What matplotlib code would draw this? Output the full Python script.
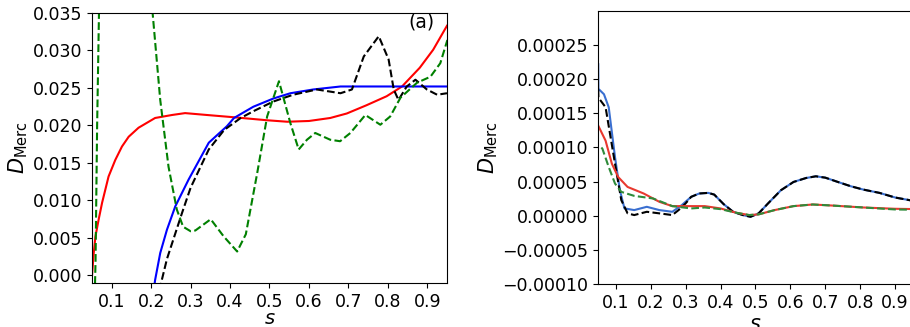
import numpy as np
import matplotlib
matplotlib.use('Agg')
import matplotlib.pyplot as plt

# ---- panel (a) data ----
red_a_s = [0.05, 0.0544, 0.0587, 0.067, 0.0756, 0.092, 0.109, 0.126, 0.143, 0.168, 0.21, 0.253, 0.286,
           0.341, 0.409, 0.493, 0.545, 0.60, 0.654, 0.696, 0.746, 0.797, 0.836, 0.881, 0.915, 0.95]
red_a_d = [0.0, 0.003, 0.0052, 0.0075, 0.0097, 0.0132, 0.0154, 0.0172, 0.0185, 0.0197, 0.021, 0.0214,
           0.02165, 0.0214, 0.0211, 0.0207, 0.0205, 0.0206, 0.021, 0.0216, 0.0227, 0.0239, 0.0252,
           0.0277, 0.0301, 0.0333]

blue_a_s = [0.205, 0.21, 0.223, 0.24, 0.261, 0.295, 0.346, 0.392, 0.41, 0.459, 0.51, 0.553, 0.611,
            0.68, 0.746, 0.831, 0.95]
blue_a_d = [-0.0025, -0.0006, 0.003, 0.0061, 0.0092, 0.0128, 0.0177, 0.0199, 0.021, 0.0225, 0.0236,
            0.0243, 0.0248, 0.0252, 0.0252, 0.0252, 0.0252]

black_a_s = [0.222, 0.227, 0.24, 0.278, 0.30, 0.346, 0.385, 0.427, 0.459, 0.51, 0.56, 0.62, 0.68,
             0.709, 0.739, 0.777, 0.802, 0.815, 0.827, 0.848, 0.87, 0.899, 0.925, 0.95]
black_a_d = [-0.002, -0.0006, 0.0022, 0.0083, 0.0117, 0.0168, 0.0194, 0.021, 0.0219, 0.0232, 0.0241,
             0.0248, 0.0243, 0.0248, 0.0292, 0.0319, 0.0288, 0.0248, 0.0234, 0.0252, 0.0261, 0.0248,
             0.0241, 0.0243]

green_a_s = [0.05, 0.056, 0.059, 0.063, 0.068, 0.075, 0.1, 0.14, 0.18, 0.202, 0.223, 0.244, 0.265,
             0.281, 0.30, 0.312, 0.351, 0.384, 0.418, 0.44, 0.469, 0.494, 0.524, 0.553, 0.574,
             0.595, 0.616, 0.654, 0.679, 0.705, 0.743, 0.781, 0.806, 0.832, 0.874, 0.908, 0.933, 0.951]
green_a_d = [-0.03, -0.005, 0.002, 0.02, 0.036, 0.06, 0.09, 0.09, 0.055, 0.036, 0.0234, 0.0145,
             0.0088, 0.0065, 0.0059, 0.006, 0.0075, 0.0052, 0.0032, 0.0055, 0.0137, 0.0212, 0.0259,
             0.0203, 0.0168, 0.0181, 0.019, 0.0181, 0.0179, 0.019, 0.0214, 0.0201, 0.0212, 0.0237,
             0.0257, 0.0265, 0.0283, 0.0314]

# ---- right panel data ----
blue_b_s = [0.05, 0.0505, 0.0664, 0.08, 0.098, 0.112, 0.125, 0.153, 0.189, 0.225, 0.262, 0.289, 0.316,
            0.339, 0.365, 0.382, 0.409, 0.436, 0.464, 0.486, 0.509, 0.536, 0.573, 0.609, 0.645,
            0.673, 0.70, 0.736, 0.773, 0.809, 0.855, 0.90, 0.95]
blue_b_d = [0.000222, 0.000186, 0.000178, 0.000159, 0.0000859, 0.0000374, 0.0000108, 0.0000083,
            0.0000131, 0.0000083, 0.0000058, 0.0000155, 0.0000277, 0.0000326, 0.0000335, 0.000031,
            0.000017, 0.0000058, 0.000001, -0.0000015, 0.0000034, 0.000018, 0.0000374, 0.0000495,
            0.0000553, 0.0000578, 0.0000558, 0.0000495, 0.0000432, 0.0000383, 0.0000335, 0.0000267,
            0.000022]

black_b_s = [0.05, 0.0505, 0.071, 0.098, 0.116, 0.134, 0.153, 0.189, 0.225, 0.262, 0.28, 0.30, 0.316,
             0.339, 0.365, 0.382, 0.409, 0.436, 0.464, 0.486, 0.509, 0.536, 0.573, 0.609, 0.645,
             0.673, 0.70, 0.736, 0.773, 0.809, 0.855, 0.90, 0.95]
black_b_d = [0.000185, 0.000173, 0.000159, 0.0000763, 0.0000229, 0.0000035, 0.000001, 0.0000058,
             0.0000035, 0.000001, 0.0000083, 0.000018, 0.0000277, 0.0000326, 0.0000335, 0.000031,
             0.000017, 0.0000058, 0.000001, -0.0000015, 0.0000034, 0.000018, 0.0000374, 0.0000495,
             0.0000553, 0.0000578, 0.0000558, 0.0000495, 0.0000432, 0.0000383, 0.0000335, 0.0000267,
             0.000022]

red_b_s = [0.05, 0.071, 0.089, 0.107, 0.134, 0.18, 0.225, 0.262, 0.316, 0.355, 0.40, 0.445, 0.482,
           0.509, 0.555, 0.609, 0.664, 0.718, 0.809, 0.90, 0.95]
red_b_d = [0.000132, 0.00011, 0.0000763, 0.0000568, 0.0000422, 0.0000326, 0.0000204, 0.0000141,
           0.0000141, 0.0000141, 0.0000107, 0.0000044, 0.000001, 0.000002, 0.0000083, 0.0000141,
           0.0000165, 0.000015, 0.0000121, 0.0000102, 0.0000098]

green_b_s = [0.059, 0.062, 0.08, 0.098, 0.116, 0.153, 0.207, 0.262, 0.316, 0.355, 0.40, 0.445, 0.482,
             0.509, 0.555, 0.609, 0.664, 0.718, 0.809, 0.90, 0.95]
green_b_d = [0.0001, 0.0000981, 0.0000714, 0.0000472, 0.000035, 0.0000291, 0.0000253, 0.0000141,
             0.0000107, 0.0000121, 0.0000097, 0.0000044, 0.000001, 0.000002, 0.0000083, 0.0000141,
             0.0000165, 0.000015, 0.0000121, 0.0000092, 0.0000088]

xticks = [0.1, 0.2, 0.3, 0.4, 0.5, 0.6, 0.7, 0.8, 0.9]

plt.rcParams['font.size'] = 12.5
fig = plt.figure(figsize=(9.1, 3.27), dpi=100)

# panel (a)
ax1 = fig.add_axes([0.1011, 0.1346, 0.3901, 0.8257])
ax1.plot(red_a_s, red_a_d, color='r', lw=1.5)
ax1.plot(blue_a_s, blue_a_d, color='b', lw=1.5)
ax1.plot(black_a_s, black_a_d, color='k', ls='--', lw=1.5)
ax1.plot(green_a_s, green_a_d, color='g', ls='--', lw=1.5)
ax1.set_xlim(0.05, 0.95)
ax1.set_ylim(-0.001, 0.035)
ax1.set_xticks(xticks)
ax1.set_yticks(np.arange(0, 0.0351, 0.005))
ax1.yaxis.set_major_formatter(matplotlib.ticker.FormatStrFormatter('%.3f'))
ax1.set_xlabel('$s$', fontsize=14, labelpad=-1)
ax1.set_ylabel(r'$D_{\mathrm{Merc}}$', fontsize=15, labelpad=2)
ax1.text(0.927, 0.965, '(a)', transform=ax1.transAxes, ha='center', va='center', fontsize=13.5)

# right panel (cut at the figure edge, like the reference)
ax2 = fig.add_axes([0.6574, 0.1315, 0.3455, 0.8349])
ax2.plot(blue_b_s, blue_b_d, color='#3a6fd0', lw=1.5)
ax2.plot(black_b_s, black_b_d, color='k', ls='--', lw=1.5)
ax2.plot(red_b_s, red_b_d, color='#e8392f', lw=1.5)
ax2.plot(green_b_s, green_b_d, color='#2e8b3a', ls='--', lw=1.5)
ax2.set_xlim(0.05, 0.95)
ax2.set_ylim(-0.0001, 0.0003)
ax2.set_xticks(xticks)
ax2.set_yticks(np.arange(-0.0001, 0.00026, 0.00005))
ax2.yaxis.set_major_formatter(matplotlib.ticker.FuncFormatter(
    lambda v, p: ('%.5f' % v).replace('-', '\u2212') if abs(v) > 1e-12 else '0.00000'))
ax2.set_xlabel('$s$', fontsize=15, labelpad=2)
ax2.set_ylabel(r'$D_{\mathrm{Merc}}$', fontsize=15, labelpad=2)

fig.savefig('out.png', dpi=100)
